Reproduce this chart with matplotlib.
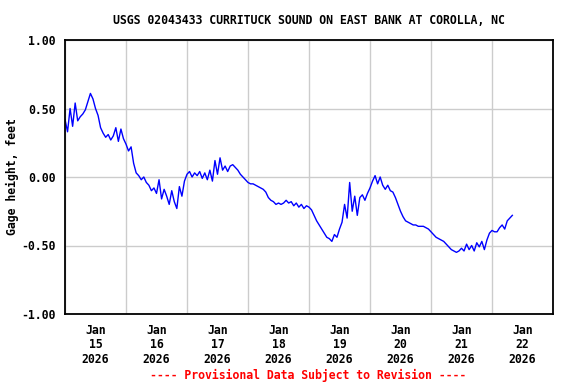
import numpy as np
import matplotlib
matplotlib.use("Agg")
import matplotlib.pyplot as plt

# hourly gage height (feet), starting 2026-01-15 00:00
day0 = [0.42, 0.33, 0.50, 0.37, 0.54, 0.41, 0.44, 0.46, 0.49, 0.55, 0.61, 0.57,
        0.50, 0.45, 0.36, 0.32, 0.29, 0.31, 0.27, 0.30, 0.36, 0.26, 0.35, 0.28]
day1 = [0.24, 0.19, 0.22, 0.10, 0.03, 0.01, -0.02, 0.00, -0.04, -0.06, -0.10, -0.08,
        -0.12, -0.02, -0.16, -0.09, -0.14, -0.20, -0.10, -0.18, -0.23, -0.07, -0.14, -0.03]
day2 = [0.02, 0.04, 0.00, 0.03, 0.01, 0.04, -0.01, 0.03, -0.02, 0.05, -0.03, 0.12,
        0.02, 0.14, 0.05, 0.08, 0.04, 0.08, 0.09, 0.07, 0.05, 0.02, 0.00, -0.02]
day3 = [-0.04, -0.05, -0.05, -0.06, -0.07, -0.08, -0.09, -0.11, -0.15, -0.17, -0.18, -0.20,
        -0.19, -0.20, -0.19, -0.17, -0.19, -0.18, -0.21, -0.19, -0.22, -0.20, -0.23, -0.21]
day4 = [-0.22, -0.24, -0.28, -0.32, -0.35, -0.38, -0.41, -0.44, -0.45, -0.47, -0.42, -0.44,
        -0.38, -0.33, -0.20, -0.30, -0.04, -0.25, -0.14, -0.28, -0.15, -0.13, -0.17, -0.12]
day5 = [-0.08, -0.03, 0.01, -0.05, 0.00, -0.06, -0.09, -0.06, -0.10, -0.11, -0.15, -0.20,
        -0.25, -0.29, -0.32, -0.33, -0.34, -0.35, -0.35, -0.36, -0.36, -0.36, -0.37, -0.38]
day6 = [-0.40, -0.42, -0.44, -0.45, -0.46, -0.47, -0.49, -0.51, -0.53, -0.54, -0.55, -0.54,
        -0.52, -0.54, -0.49, -0.53, -0.50, -0.54, -0.48, -0.51, -0.47, -0.53, -0.46, -0.41]
day7 = [-0.39, -0.40, -0.40, -0.37, -0.35, -0.38, -0.32, -0.30, -0.28]

gage = day0 + day1 + day2 + day3 + day4 + day5 + day6 + day7
start = np.datetime64("2026-01-15T00:00")
times = start + np.arange(len(gage)) * np.timedelta64(1, "h")

days = np.arange(np.datetime64("2026-01-15"), np.datetime64("2026-01-24"))
day_labels = [f"Jan\n{d}\n2026" for d in range(15, 23)]
y_ticks = [-1.0, -0.5, 0.0, 0.5, 1.0]

font = dict(family="DejaVu Sans Mono", weight="bold", size=8.3)

fig = plt.figure(figsize=(5.76, 3.84), dpi=100)
ax = fig.add_axes([65 / 576, 1 - 314 / 384, 488 / 576, 274 / 384])

ax.plot(times, gage, color="#0000ff", lw=1.0)

ax.set_xlim(days[0], days[-1])
ax.set_ylim(-1.0, 1.0)

# gridlines at midnight, day labels centred at noon
ax.set_xticks(days)
ax.set_xticklabels([])
ax.set_xticks(days[:-1] + np.timedelta64(12, "h"), minor=True)
ax.set_xticklabels(day_labels, minor=True, linespacing=1.15, **font)
ax.set_yticks(y_ticks)
ax.set_yticklabels([f"{v:.2f}" for v in y_ticks], **font)
ax.tick_params(which="both", length=0)
ax.tick_params(axis="y", pad=7)
ax.tick_params(axis="x", which="minor", pad=7)

ax.grid(True, which="major", color="#cccccc", lw=1)
for s in ax.spines.values():
    s.set_linewidth(1.3)

ax.set_ylabel("Gage height, feet", **font)
ax.yaxis.set_label_coords(-0.095, 0.5)

fig.text(309 / 576, 1 - 20 / 384, "USGS 02043433 CURRITUCK SOUND ON EAST BANK AT COROLLA, NC",
         ha="center", va="center", **font)
fig.text(308 / 576, 1 - 375 / 384, "---- Provisional Data Subject to Revision ----",
         ha="center", va="center", color="red", **font)

fig.savefig("out.png", dpi=100)
